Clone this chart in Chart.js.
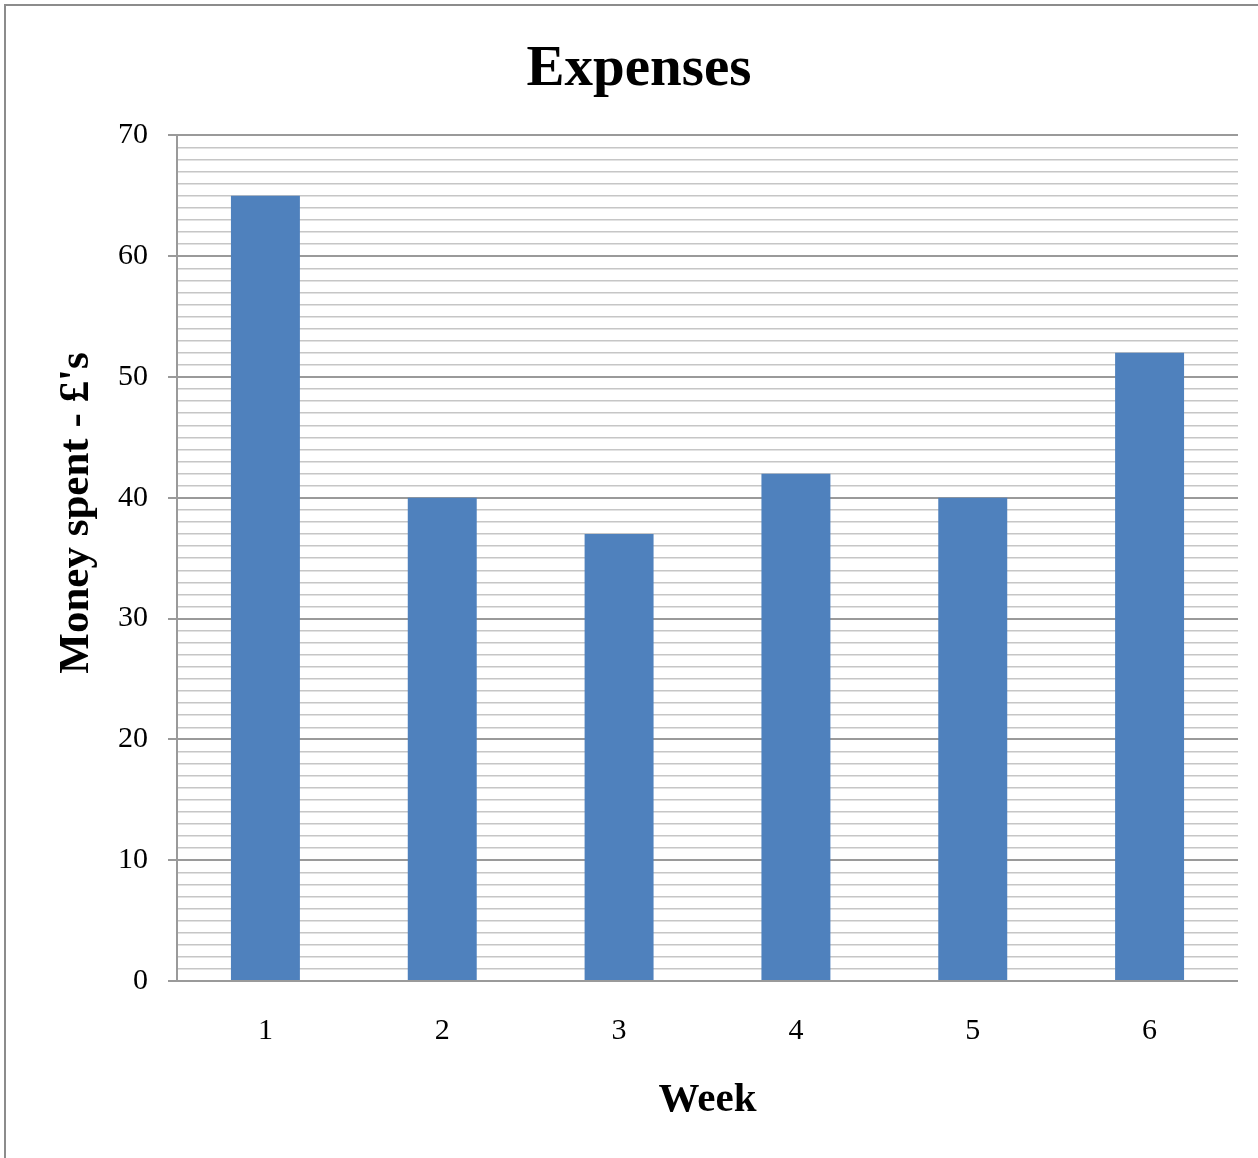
<!DOCTYPE html>
<html>
<head>
<meta charset="utf-8">
<script src="https://cdn.jsdelivr.net/npm/chart.js@4/dist/chart.umd.min.js"></script>
<style>
  html, body { margin: 0; padding: 0; background: #fff; }
  #wrap { position: relative; width: 1258px; height: 1158px; }
  #frame { position: absolute; left: 4px; top: 4px; width: 1300px; height: 1200px;
           border-left: 2px solid #8c8c8c; border-top: 2px solid #8c8c8c; pointer-events: none; }
</style>
</head>
<body>
<div id="wrap">
  <canvas id="c"></canvas>
  <div id="frame"></div>
</div>
<script>
const chartTitle = 'Expenses';
const xAxisTitle = 'Week';
const yAxisTitle = "Money spent - £'s";
const weeks = ['1', '2', '3', '4', '5', '6'];
const moneySpent = [65, 40, 37, 42, 40, 52];
const yMin = 0;
const yMax = 70;
const yLabelStep = 10;
const yMinorStep = 1;

const FONT = '"Liberation Serif", "Times New Roman", serif';

const yTitlePlugin = {
  id: 'yTitle',
  afterDraw(chart) {
    const ctx = chart.ctx;
    ctx.save();
    ctx.font = 'bold 43px ' + FONT;
    ctx.fillStyle = '#000';
    ctx.textAlign = 'center';
    ctx.textBaseline = 'middle';
    ctx.translate(77, 513);
    ctx.rotate(-Math.PI / 2);
    ctx.fillText(yAxisTitle, 0, 0);
    ctx.restore();
  }
};

new Chart(document.getElementById('c'), {
  type: 'bar',
  data: {
    labels: weeks,
    datasets: [{
      data: moneySpent,
      backgroundColor: '#4F81BD',
      borderWidth: 0,
      categoryPercentage: 1,
      barPercentage: 0.39
    }]
  },
  options: {
    responsive: true,
    maintainAspectRatio: false,
    animation: false,
    layout: { padding: { left: 40, right: 20, top: 0, bottom: 0 } },
    plugins: {
      legend: { display: false },
      tooltip: { enabled: false },
      title: {
        display: true,
        text: chartTitle,
        color: '#000',
        font: { family: FONT, size: 57, weight: 'bold' },
        padding: { top: 36, bottom: 31 }
      }
    },
    scales: {
      x: {
        offset: true,
        grid: { display: false, drawTicks: false },
        border: { display: false },
        ticks: {
          color: '#000',
          font: { family: FONT, size: 30 },
          padding: 32,
          maxRotation: 0
        },
        title: {
          display: true,
          text: xAxisTitle,
          color: '#000',
          font: { family: FONT, size: 41, weight: 'bold' },
          padding: { top: 0, bottom: 33 }
        },
        afterFit(scale) { scale.height = 177; }
      },
      y: {
        min: yMin,
        max: yMax,
        border: { display: true, color: '#9a9a9a', width: 2 },
        grid: {
          color: (c) => (c.tick && c.tick.value % yLabelStep === 0) ? '#9a9a9a' : '#c6c6c6',
          lineWidth: (c) => (c.tick && c.tick.value % yLabelStep === 0) ? 2 : 1.5,
          tickColor: (c) => (c.tick && c.tick.value % yLabelStep === 0) ? '#9a9a9a' : 'rgba(0,0,0,0)',
          tickLength: 9,
          tickWidth: 2
        },
        ticks: {
          stepSize: yMinorStep,
          autoSkip: false,
          maxTicksLimit: 200,
          color: '#000',
          font: { family: FONT, size: 30 },
          padding: 20,
          callback: (v) => (v % yLabelStep === 0 ? String(v) : '')
        },
        afterFit(scale) { scale.width = 137; }
      }
    }
  },
  plugins: [yTitlePlugin]
});
</script>
</body>
</html>
